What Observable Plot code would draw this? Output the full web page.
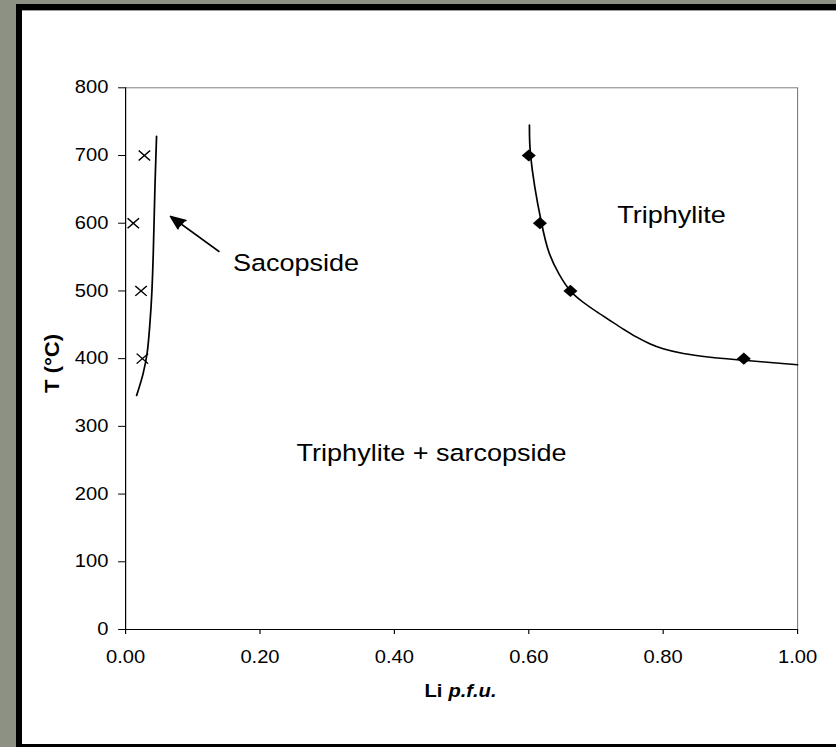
<!DOCTYPE html>
<html>
<head>
<meta charset="utf-8">
<script src="https://cdn.jsdelivr.net/npm/d3@7"></script>
<script src="https://cdn.jsdelivr.net/npm/@observablehq/plot@0.6"></script>
<style>
  html, body { margin: 0; padding: 0; width: 836px; height: 747px; overflow: hidden; background: #8c9184; }
  #panel { position: absolute; left: 16px; top: 4px; width: 900px; height: 734px; background: #fff; border: 6px solid #000; box-shadow: inset 0 1px 0 #9a9a9a; }
  #chart { position: absolute; left: 0; top: 0; }
  #chart svg { transform: scaleX(1.15); transform-origin: 0 0; display: block; }
</style>
</head>
<body>
<div id="panel"></div>
<div id="chart"></div>
<script>
// ---- data ----
const xTicks = [0, 0.2, 0.4, 0.6, 0.8, 1.0];
const yTicks = [0, 100, 200, 300, 400, 500, 600, 700, 800];

// sarcopside measurements (crosses)
const sarcX = [0.028, 0.0115, 0.023, 0.025];
const sarcT = [700, 600, 500, 400];
// sarcopside boundary curve
const sarcCurveX = [0.0164, 0.026, 0.032, 0.0365, 0.0392, 0.0412, 0.0437, 0.0461];
const sarcCurveT = [345.6, 377.6, 407.6, 456, 500, 555, 653, 728.6];

// triphylite measurements (diamonds)
const triphX = [0.600, 0.6166, 0.662, 0.920];
const triphT = [700, 600, 500, 400];
// triphylite boundary curve
const triphCurveX = [0.601, 0.6027, 0.619, 0.630, 0.645, 0.662, 0.68, 0.70, 0.72, 0.74, 0.76, 0.78, 0.80, 0.83, 0.87, 0.92, 1.0];
const triphCurveT = [745, 700, 600, 557, 525, 500, 484, 470, 457, 444, 432, 422, 414.5, 407.5, 402, 397.5, 391];

// field labels
const leftLabel = ["Sacopside"], leftLabelX = [0.1597], leftLabelT = [540.5];
const centerLabels = ["Triphylite", "Triphylite + sarcopside"];
const centerLabelX = [0.8125, 0.4554];
const centerLabelT = [611.5, 259.5];

// arrow pointing to sarcopside curve
const arrowX1 = [0.1388], arrowT1 = [558.3];
const arrowX2 = [0.067], arrowT2 = [610];

// axis titles
const yTitle = ["T (°C)"], yTitleX = [-0.1086], yTitleT = [393];
const xTitleMain = ["Li"], xTitleItalic = ["p.f.u."];
const xTitleX = [0.4449, 0.4805], xTitleT = [-92];

// ---- build ----
const S = 1.15;
const W = 836 / S;
const zip = (xs, ys) => xs.map((x, i) => ({x, y: ys[i]}));
const zipT = (ts, xs, ys) => ts.map((t, i) => ({t, x: xs[i], y: ys[i]}));

const arrows = arrowX1.map((x1, i) => ({x1, y1: arrowT1[i], x2: arrowX2[i], y2: arrowT2[i]}));
const font = "'Liberation Sans', Arial, Helvetica, sans-serif";

const plot = Plot.plot({
  width: W,
  height: 747,
  marginLeft: 125 / S,
  marginRight: W - 797 / S,
  marginTop: 87.3,
  marginBottom: 747 - 629,
  x: {domain: [0, 1]},
  y: {domain: [0, 800]},
  style: {fontFamily: font, fontSize: "17.5px", color: "black", background: "transparent", overflow: "visible"},
  marks: [
    Plot.frame({stroke: "#808080", strokeWidth: 1}),
    Plot.ruleX([0], {stroke: "black", strokeWidth: 1}),
    Plot.ruleY([0], {stroke: "black", strokeWidth: 1}),
    Plot.axisX({ticks: xTicks, tickFormat: d3.format(".2f"), tickSize: 5, tickPadding: 16, fontSize: 17.5, label: null}),
    Plot.axisY({ticks: yTicks, tickFormat: d3.format("d"), tickSize: 6, tickPadding: 9, fontSize: 17.5, label: null}),
    Plot.line(zip(sarcCurveX, sarcCurveT), {x: "x", y: "y", curve: "catmull-rom", stroke: "black", strokeWidth: 1.5}),
    Plot.line(zip(triphCurveX, triphCurveT), {x: "x", y: "y", curve: "catmull-rom", stroke: "black", strokeWidth: 1.5}),
    Plot.dot(zip(sarcX, sarcT), {x: "x", y: "y", symbol: "times", r: 4.6, stroke: "black", strokeWidth: 1.3}),
    Plot.dot(zip(triphX, triphT), {x: "x", y: "y", symbol: "diamond2", r: 5.5, fill: "black", stroke: "none"}),
    Plot.arrow(arrows, {x1: "x1", y1: "y1", x2: "x2", y2: "y2", stroke: "black", strokeWidth: 1.6, headLength: 13, headAngle: 45}),
    Plot.text(zipT(leftLabel, leftLabelX, leftLabelT), {x: "x", y: "y", text: "t", textAnchor: "start", fontSize: 23.5, fill: "black"}),
    Plot.text(zipT(centerLabels, centerLabelX, centerLabelT), {x: "x", y: "y", text: "t", textAnchor: "middle", fontSize: 23.5, fill: "black"}),
    Plot.text(zipT(yTitle, yTitleX, yTitleT), {x: "x", y: "y", text: "t", rotate: -90, fontSize: 17, fontWeight: "bold", fill: "black"}),
    Plot.text(zipT(xTitleMain, [xTitleX[0]], xTitleT), {x: "x", y: "y", text: "t", textAnchor: "start", fontSize: 17.5, fontWeight: "bold", fill: "black"}),
    Plot.text(zipT(xTitleItalic, [xTitleX[1]], xTitleT), {x: "x", y: "y", text: "t", textAnchor: "start", fontSize: 17.5, fontWeight: "bold", fontStyle: "italic", fill: "black"})
  ]
});

// fill the arrowhead (solid head like the original)
d3.select(plot).selectAll('g[aria-label="arrow"] path').attr("fill", "black").attr("stroke-linejoin", "miter");
// stretch the rotated axis title along its length
d3.select(plot).selectAll("text").filter(function () { return this.textContent === "T (°C)"; })
  .attr("transform", function () { return (this.getAttribute("transform") || "") + " scale(1.3,1)"; });

document.getElementById("chart").appendChild(plot);
</script>
</body>
</html>
